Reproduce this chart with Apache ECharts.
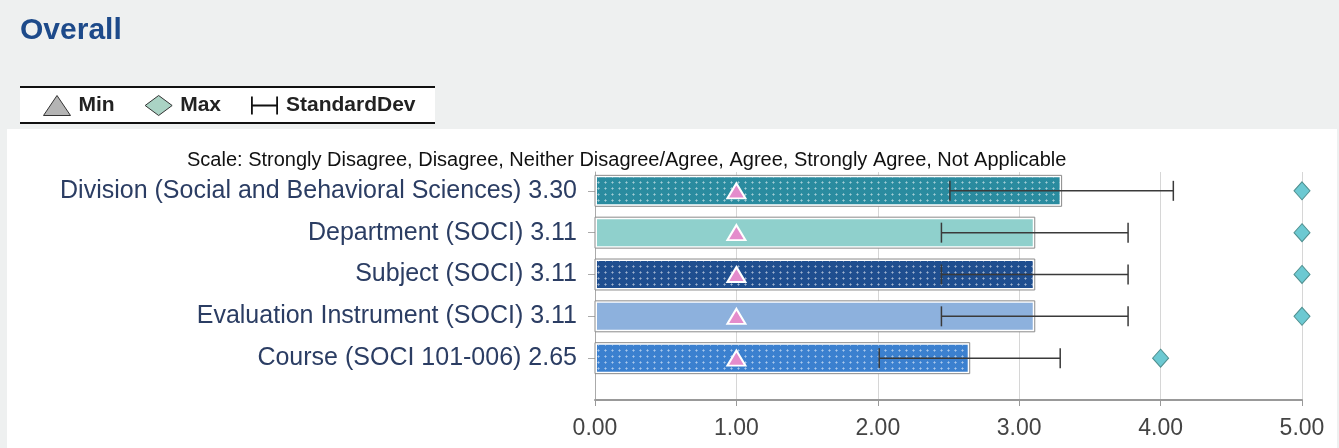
<!DOCTYPE html>
<html>
<head>
<meta charset="utf-8">
<script src="https://cdn.jsdelivr.net/npm/echarts@6/dist/echarts.min.js"></script>
<style>
  html, body { margin: 0; padding: 0; background: #eef0f0; }
  #chart { width: 1339px; height: 448px; }
</style>
</head>
<body>
<div id="chart"></div>
<script>
// data
const categories = [
  'Division (Social and Behavioral Sciences)',
  'Department (SOCI)',
  'Subject (SOCI)',
  'Evaluation Instrument (SOCI)',
  'Course (SOCI 101-006)'
];
const means = [3.30, 3.11, 3.11, 3.11, 2.65];
const stdDevs = [0.79, 0.66, 0.66, 0.66, 0.64];
const mins = [1, 1, 1, 1, 1];
const maxes = [5, 5, 5, 5, 4];
const xTicks = [0, 1, 2, 3, 4, 5];

const barColors = ['#2a8b9f', '#8fd0cc', '#1f4e8f', '#8db1dd', '#3b80cf'];
const dotted = [true, false, true, false, true];

// little dot texture used on some bars
const dotCanvas = document.createElement('canvas');
dotCanvas.width = 7;
dotCanvas.height = 6;
const dctx = dotCanvas.getContext('2d');
dctx.fillStyle = 'rgba(255,255,255,0.35)';
dctx.fillRect(3, 1, 1, 3);
dctx.fillRect(2, 2, 3, 1);
const dotPattern = { image: dotCanvas, repeat: 'repeat' };

const chart = echarts.init(document.getElementById('chart'));

const option = {
  backgroundColor: '#eef0f0',
  animation: false,
  textStyle: { fontFamily: 'Liberation Sans, Arial, sans-serif' },
  title: [
    {
      text: 'Overall',
      left: 15, top: 11,
      textStyle: { fontSize: 30, fontWeight: 'bold', color: '#1d4a8a' }
    },
    {
      text: 'Scale: Strongly Disagree, Disagree, Neither Disagree/Agree, Agree, Strongly Agree, Not Applicable',
      left: 182, top: 145,
      textStyle: { fontSize: 20, fontWeight: 'normal', color: '#111' }
    }
  ],
  graphic: [
    { type: 'rect', z: -10, silent: true, shape: { x: 7, y: 129, width: 1330, height: 319 }, style: { fill: '#ffffff' } },
    { type: 'rect', z: -10, silent: true, shape: { x: 20, y: 87, width: 415, height: 36 }, style: { fill: '#ffffff' } },
    { type: 'line', z: -9, silent: true, shape: { x1: 20, y1: 87, x2: 435, y2: 87 }, style: { stroke: '#111', lineWidth: 2 } },
    { type: 'line', z: -9, silent: true, shape: { x1: 20, y1: 123, x2: 435, y2: 123 }, style: { stroke: '#111', lineWidth: 2 } }
  ],
  legend: {
    left: 43, top: 95,
    padding: 0,
    itemGap: 30,
    itemWidth: 27, itemHeight: 20,
    textStyle: { fontSize: 21, fontWeight: 'bold', color: '#222', padding: [0, 0, 0, 3] },
    data: [
      { name: 'Min', icon: 'triangle', itemStyle: { color: '#b4b4b4', borderColor: '#333', borderWidth: 1 } },
      { name: 'Max', icon: 'diamond', itemStyle: { color: '#aad3c4', borderColor: '#333', borderWidth: 1 } },
      { name: 'StandardDev', icon: 'path://M0,0h2v20h-2z M2,9h26v2h-26z M28,0h2v20h-2z', itemStyle: { color: '#111' } }
    ]
  },
  grid: { left: 595, right: 37, top: 172, bottom: 48 },
  xAxis: {
    type: 'value',
    min: 0, max: 5, interval: 1,
    axisLine: { show: true, onZero: false, lineStyle: { color: '#999', width: 2 } },
    axisTick: { show: true, length: 6, lineStyle: { color: '#999' } },
    splitLine: { show: true, lineStyle: { color: '#d6d6d6' } },
    axisLabel: {
      margin: 17, fontSize: 23, color: '#444',
      formatter: v => xTicks.includes(v) ? v.toFixed(2) : ''
    }
  },
  yAxis: {
    type: 'value',
    inverse: true,
    min: -0.45, max: 5,
    axisLine: { show: true, onZero: false, lineStyle: { color: '#aaa' } },
    splitLine: { show: false },
    axisTick: { show: true, length: 7, customValues: [0, 1, 2, 3, 4], lineStyle: { color: '#aaa' } },
    axisLabel: {
      margin: 18, fontSize: 25, color: '#2b3d63',
      customValues: [0, 1, 2, 3, 4],
      formatter: v => categories[v] + ' ' + means[v].toFixed(2)
    }
  },
  series: [
    {
      name: 'Mean',
      type: 'custom',
      data: means.map((m, i) => [m, i]),
      encode: { x: 0, y: 1 },
      renderItem: (params, api) => {
        const m = api.value(0);
        const i = api.value(1);
        const p0 = api.coord([0, i]);
        const p1 = api.coord([m, i]);
        const h = Math.abs(api.size([0, 1])[1]) * 0.74;
        const x = p0[0], y = p0[1] - h / 2, w = p1[0] - p0[0];
        const children = [
          { type: 'rect', shape: { x: x, y: y, width: w, height: h }, style: { fill: '#ffffff', stroke: '#8a8a8a', lineWidth: 1 } },
          { type: 'rect', shape: { x: x + 2, y: y + 2, width: w - 4, height: h - 4 }, style: { fill: barColors[i] } }
        ];
        if (dotted[i]) {
          children.push({ type: 'rect', shape: { x: x + 2, y: y + 2, width: w - 4, height: h - 4 }, style: { fill: dotPattern } });
        }
        return { type: 'group', children: children };
      },
      z: 2
    },
    {
      name: 'StandardDev',
      type: 'custom',
      data: means.map((m, i) => [m, i, stdDevs[i]]),
      encode: { x: 0, y: 1 },
      renderItem: (params, api) => {
        const m = api.value(0);
        const i = api.value(1);
        const sd = api.value(2);
        const lo = api.coord([m - sd, i]);
        const hi = api.coord([m + sd, i]);
        const c = 10;
        const st = { stroke: '#3a3a3a', lineWidth: 1.5 };
        return {
          type: 'group',
          children: [
            { type: 'line', shape: { x1: lo[0], y1: lo[1], x2: hi[0], y2: hi[1] }, style: st },
            { type: 'line', shape: { x1: lo[0], y1: lo[1] - c, x2: lo[0], y2: lo[1] + c }, style: st },
            { type: 'line', shape: { x1: hi[0], y1: hi[1] - c, x2: hi[0], y2: hi[1] + c }, style: st }
          ]
        };
      },
      itemStyle: { color: '#111' },
      z: 3
    },
    {
      name: 'Min',
      type: 'scatter',
      data: mins.map((v, i) => [v, i]),
      symbol: 'triangle',
      symbolSize: [18, 15],
      itemStyle: { color: '#e48ccc', borderColor: '#ffffff', borderWidth: 2, opacity: 1 },
      z: 4
    },
    {
      name: 'Max',
      type: 'scatter',
      data: maxes.map((v, i) => [v, i]),
      symbol: 'diamond',
      symbolSize: [16, 18],
      itemStyle: { color: '#6cc9d2', borderColor: '#4f8f8f', borderWidth: 1, opacity: 1 },
      z: 4
    }
  ]
};

chart.setOption(option);
</script>
</body>
</html>
